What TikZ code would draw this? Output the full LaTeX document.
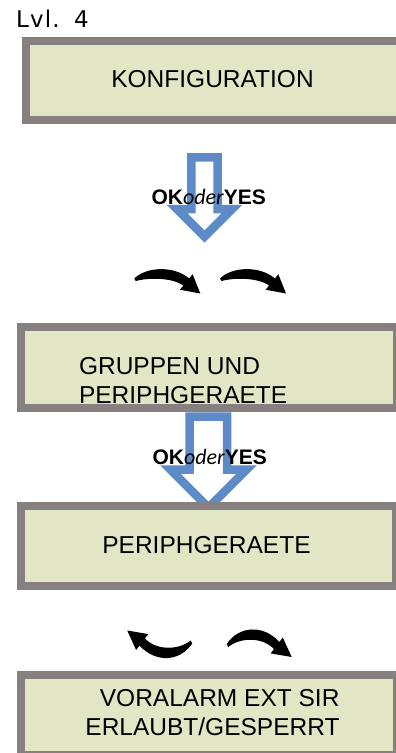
\documentclass[tikz,border=0pt]{standalone}
\usepackage{fontspec}
\setmainfont{Liberation Sans}
\newfontfamily\lvlfont[LetterSpace=5]{DejaVu Sans}
\newfontfamily\oderfont{Carlito}
\definecolor{boxgray}{HTML}{868080}
\definecolor{boxfill}{HTML}{E2E6C5}
\definecolor{arrowblue}{HTML}{5D8BC8}
\newcommand{\frownA}{%
  \fill (0,9) .. controls (12,-3) and (40,-4) .. (54.9,9.0) -- (58.35,4.77) -- (66,24) -- (45.65,20.23) -- (49.1,16.0) .. controls (38,8) and (14,8) .. (1.5,11.5) -- cycle;}
\newcommand{\frownB}{%
  \fill (0,14) .. controls (12,-4) and (36,-6) .. (52.7,11.9) -- (56.1,7.56) -- (65,27) -- (43.9,23.4) -- (47.3,19.1) .. controls (36,7) and (14,7) .. (1.5,17) -- cycle;}
\newcommand{\okoder}{{\bfseries\fontsize{21}{25}\selectfont OK}{\oderfont\itshape\fontsize{22}{25}\selectfont oder}{\bfseries\fontsize{21}{25}\selectfont YES}}
\begin{document}
\begin{tikzpicture}[x=1pt,y=-1pt,
  menubox/.style={draw=boxgray, fill=boxfill, line width=8pt, rectangle, inner sep=0pt},
  boxtext/.style={inner sep=0pt, anchor=base, font=\fontsize{24.5}{29}\selectfont},
  hollow/.style={draw=arrowblue, line width=8.5pt, line join=miter, miter limit=10, fill=white},
  keytext/.style={inner sep=0pt, anchor=base}
]
\useasboundingbox (0,0) rectangle (396,753);
\clip (0,0) rectangle (396,753);

\node[anchor=base west, inner sep=0pt, font=\lvlfont\fontsize{23}{27}\selectfont] (lvl) at (16,27) {Lvl.\hspace{3pt} 4};

% box 1 (runs off the right edge)
\fill[boxgray] (22.3,36.7) rectangle (396,124.3);
\node[fill=boxfill, inner sep=0pt, minimum width=365.7pt, minimum height=71.6pt] (konf) at (213.15,80.5) {};
\node[boxtext] (konft) at (212.5,87.3) {KONFIGURATION};

% arrow 1
\draw[hollow] (191.3,157.3) -- (217.7,157.3) -- (217.7,209) -- (232,209) -- (204.5,236.5) -- (177,209) -- (191.3,209) -- cycle;
\node[keytext] (ok1) at (208.7,204) {\okoder};

% curved arrows pair 1
\begin{scope}[shift={(134.3,269.5)}] \frownA \end{scope}
\begin{scope}[shift={(220,269.5)}] \frownA \end{scope}

% box 2
\node[menubox, minimum width=376pt, minimum height=80.4pt] (grp) at (208.7,367.5) {};
\node[boxtext, anchor=base west] (grp1) at (78.8,374.7) {GRUPPEN UND};
\node[boxtext, anchor=base west] (grp2) at (78.8,403.3) {PERIPHGERAETE};

% arrow 2
\draw[hollow] (189.7,416.7) -- (227,416.7) -- (227,469.7) -- (246.5,469.7) -- (208.5,507.7) -- (170.5,469.7) -- (189.7,469.7) -- cycle;
\node[keytext] (ok2) at (209.7,464.3) {\okoder};

% box 3
\node[menubox, minimum width=375pt, minimum height=80.5pt] (peri) at (208.2,545.75) {};
\node[boxtext] (perit) at (206.5,553.3) {PERIPHGERAETE};

% curved arrows pair 2
\begin{scope}[shift={(192.2,657.5)}, rotate=180] \frownB \end{scope}
\begin{scope}[shift={(226.7,630)}] \frownB \end{scope}

% box 4
\node[menubox, minimum width=376pt, minimum height=80.3pt] (vor) at (208.7,714.85) {};
\node[boxtext] (vor1) at (219.7,706.7) {VORALARM EXT SIR};
\node[boxtext] (vor2) at (212.5,735) {ERLAUBT/GESPERRT};
\end{tikzpicture}
\end{document}
